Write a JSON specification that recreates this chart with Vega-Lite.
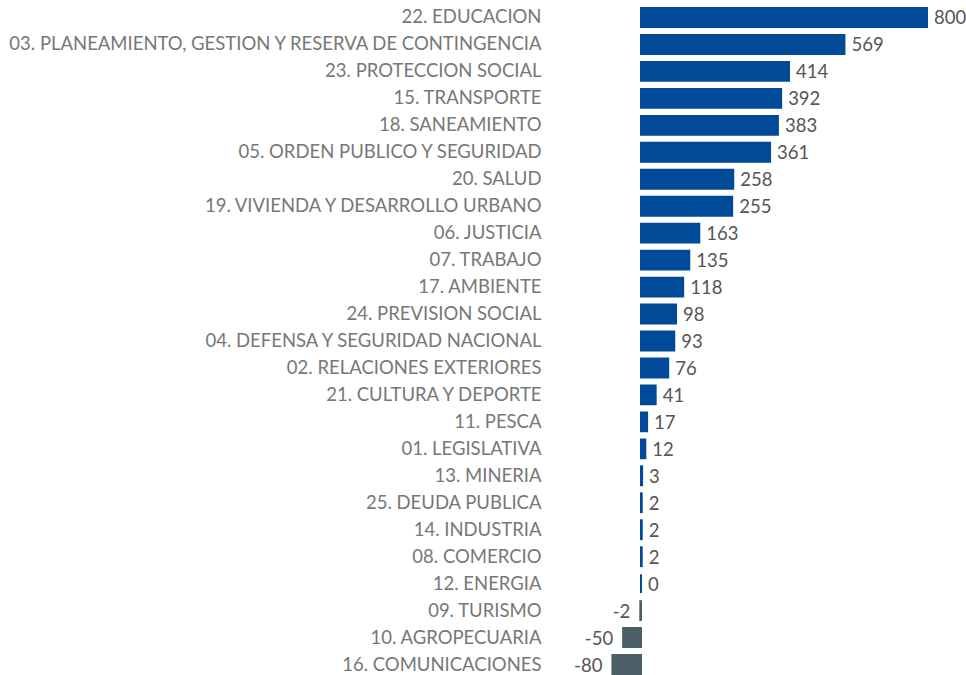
{
  "$schema": "https://vega.github.io/schema/vega-lite/v6.json",
  "autosize": "none",
  "padding": {"left": 560, "top": 4, "right": 0, "bottom": 0},
  "width": 406,
  "height": 674,
  "background": "white",
  "config": {
    "view": {"stroke": null},
    "font": "Lato",
    "locale": {"number": {"decimal": ".", "thousands": ",", "grouping": [3], "currency": ["$", ""], "minus": "-"}}
  },
  "data": {"values": [
    {"funcion": "22. EDUCACION", "value": 800},
    {"funcion": "03. PLANEAMIENTO, GESTION Y RESERVA DE CONTINGENCIA", "value": 569},
    {"funcion": "23. PROTECCION SOCIAL", "value": 414},
    {"funcion": "15. TRANSPORTE", "value": 392},
    {"funcion": "18. SANEAMIENTO", "value": 383},
    {"funcion": "05. ORDEN PUBLICO Y SEGURIDAD", "value": 361},
    {"funcion": "20. SALUD", "value": 258},
    {"funcion": "19. VIVIENDA Y DESARROLLO URBANO", "value": 255},
    {"funcion": "06. JUSTICIA", "value": 163},
    {"funcion": "07. TRABAJO", "value": 135},
    {"funcion": "17. AMBIENTE", "value": 118},
    {"funcion": "24. PREVISION SOCIAL", "value": 98},
    {"funcion": "04. DEFENSA Y SEGURIDAD NACIONAL", "value": 93},
    {"funcion": "02. RELACIONES EXTERIORES", "value": 76},
    {"funcion": "21. CULTURA Y DEPORTE", "value": 41},
    {"funcion": "11. PESCA", "value": 17},
    {"funcion": "01. LEGISLATIVA", "value": 12},
    {"funcion": "13. MINERIA", "value": 3},
    {"funcion": "25. DEUDA PUBLICA", "value": 2},
    {"funcion": "14. INDUSTRIA", "value": 2},
    {"funcion": "08. COMERCIO", "value": 2},
    {"funcion": "12. ENERGIA", "value": 0},
    {"funcion": "09. TURISMO", "value": -2},
    {"funcion": "10. AGROPECUARIA", "value": -50},
    {"funcion": "16. COMUNICACIONES", "value": -80}
  ]},
  "encoding": {
    "y": {
      "field": "funcion", "type": "nominal", "sort": null,
      "scale": {"paddingInner": 0.3, "paddingOuter": 0.15},
      "axis": {"title": null, "domain": false, "ticks": false, "labelPadding": 19,
               "labelFontSize": 18.5, "labelColor": "#777777", "labelLimit": 0, "labelFont": "Lato"}
    },
    "x": {
      "field": "value", "type": "quantitative",
      "scale": {"domain": [-226.6, 909.1], "nice": false, "zero": false},
      "axis": null
    }
  },
  "layer": [
    {
      "mark": {"type": "bar", "strokeWidth": 2},
      "encoding": {
        "x2": {"datum": 0},
        "color": {"condition": {"test": "datum.value < 0", "value": "#4b5f66"}, "value": "#004a98"},
        "stroke": {"condition": {"test": "datum.value < 0", "value": "#4b5f66"}, "value": "#004a98"}
      }
    },
    {
      "transform": [{"filter": "datum.value >= 0"}],
      "mark": {"type": "text", "align": "left", "dx": 7, "dy": 1, "fontSize": 18.5, "color": "#555555", "font": "Lato"},
      "encoding": {"text": {"field": "value", "type": "quantitative", "format": "d"}}
    },
    {
      "transform": [{"filter": "datum.value < 0"}],
      "mark": {"type": "text", "align": "right", "dx": -10, "dy": 1, "fontSize": 18.5, "color": "#555555", "font": "Lato"},
      "encoding": {"text": {"field": "value", "type": "quantitative", "format": "d"}}
    }
  ]
}
